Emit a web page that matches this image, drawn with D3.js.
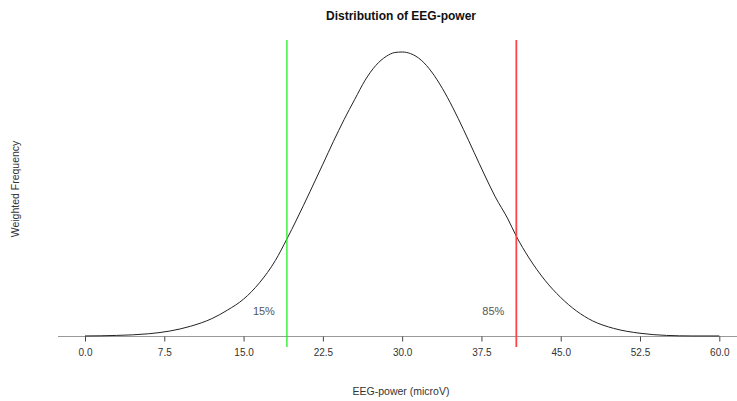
<!DOCTYPE html>
<html>
<head>
<meta charset="utf-8">
<script src="https://cdn.jsdelivr.net/npm/d3@7"></script>
<style>
  body { margin: 0; background: #fff; }
  text { font-family: "Liberation Sans", Arial, sans-serif; }
</style>
</head>
<body>
<svg></svg>
<script>
// values
const power = [0, 3, 6, 8, 10, 12, 13.5, 15, 16.5, 18, 19.1, 20, 21.3, 22.5, 23.5, 24.5, 25.5, 26.5,
  27.5, 28.5, 29.3, 30, 30.8, 31.8, 32.8, 33.8, 34.8, 35.8, 36.8, 37.8, 38.8, 40, 40.8, 42, 43.5,
  45, 46.5, 48, 50, 52.5, 55, 57.5, 60];
const density = [0.0001, 0.0002, 0.0005, 0.0010, 0.0019, 0.0033, 0.0049, 0.0069, 0.0099, 0.0140,
  0.0180, 0.0215, 0.0268, 0.0318, 0.0360, 0.0400, 0.0437, 0.0473, 0.0500, 0.0517, 0.0524, 0.0525,
  0.0522, 0.0510, 0.0488, 0.0458, 0.0422, 0.0382, 0.0340, 0.0298, 0.0258, 0.0217, 0.0185, 0.0145,
  0.0104, 0.0072, 0.0047, 0.0029, 0.0015, 0.0006, 0.0002, 0.0001, 0.0001];
const xTicks = [0, 7.5, 15, 22.5, 30, 37.5, 45, 52.5, 60];
const quantLabels = ["15%", "85%"];
const quantValues = [19.1, 40.8];
const quantColors = ["#22ee22", "#ff4444"];

const width = 737, height = 401;
const svg = d3.select("svg")
  .attr("width", width)
  .attr("height", height);

let x = d3.scaleLinear().domain([0, 60]).range([85, 719.3]);
let y = d3.scaleLinear().domain([0, 0.0525]).range([336.5, 52]);

// axis baseline spans the full width
svg.append("line")
  .attr("x1", 58).attr("x2", width)
  .attr("y1", 336.5).attr("y2", 336.5)
  .attr("stroke", "#999")
  .attr("stroke-width", 1);

let xAxis = svg.append("g")
  .attr("transform", "translate(0,336.5)")
  .call(d3.axisBottom(x).tickValues(xTicks).tickFormat(d3.format(".1f")).tickSize(5).tickPadding(7));
xAxis.select(".domain").remove();
xAxis.selectAll(".tick line").attr("stroke", "#444");
xAxis.selectAll(".tick text")
  .attr("fill", "#333")
  .style("font-size", "10px")
  .style("font-family", "'Liberation Sans', Arial, sans-serif");

// the density curve
let pts = power.map((p, i) => [p, density[i]]);
let line = d3.line()
  .x((d) => x(d[0]))
  .y((d) => y(d[1]))
  .curve(d3.curveMonotoneX);
svg.append("path")
  .datum(pts)
  .attr("d", line)
  .attr("fill", "none")
  .attr("stroke", "#222")
  .attr("stroke-width", 1);

// quantile lines
quantValues.forEach((q, i) => {
  svg.append("line")
    .attr("x1", x(q)).attr("x2", x(q))
    .attr("y1", 40).attr("y2", 347)
    .attr("stroke", quantColors[i])
    .attr("stroke-width", i == 0 ? 1.3 : 1.8);
  svg.append("text")
    .attr("x", x(q) - 12)
    .attr("y", 315)
    .attr("text-anchor", "end")
    .attr("fill", "#555")
    .style("font-size", "11px")
    .text(quantLabels[i]);
});

// titles
svg.append("text")
  .attr("x", 401).attr("y", 20)
  .attr("text-anchor", "middle")
  .style("font-size", "12px")
  .style("font-weight", "bold")
  .attr("fill", "#111")
  .text("Distribution of EEG-power");

svg.append("text")
  .attr("x", 401).attr("y", 395)
  .attr("text-anchor", "middle")
  .style("font-size", "10.5px")
  .attr("fill", "#333")
  .text("EEG-power (microV)");

svg.append("text")
  .attr("transform", "translate(19,189) rotate(-90)")
  .attr("text-anchor", "middle")
  .style("font-size", "10.5px")
  .attr("fill", "#333")
  .text("Weighted Frequency");
</script>
</body>
</html>
